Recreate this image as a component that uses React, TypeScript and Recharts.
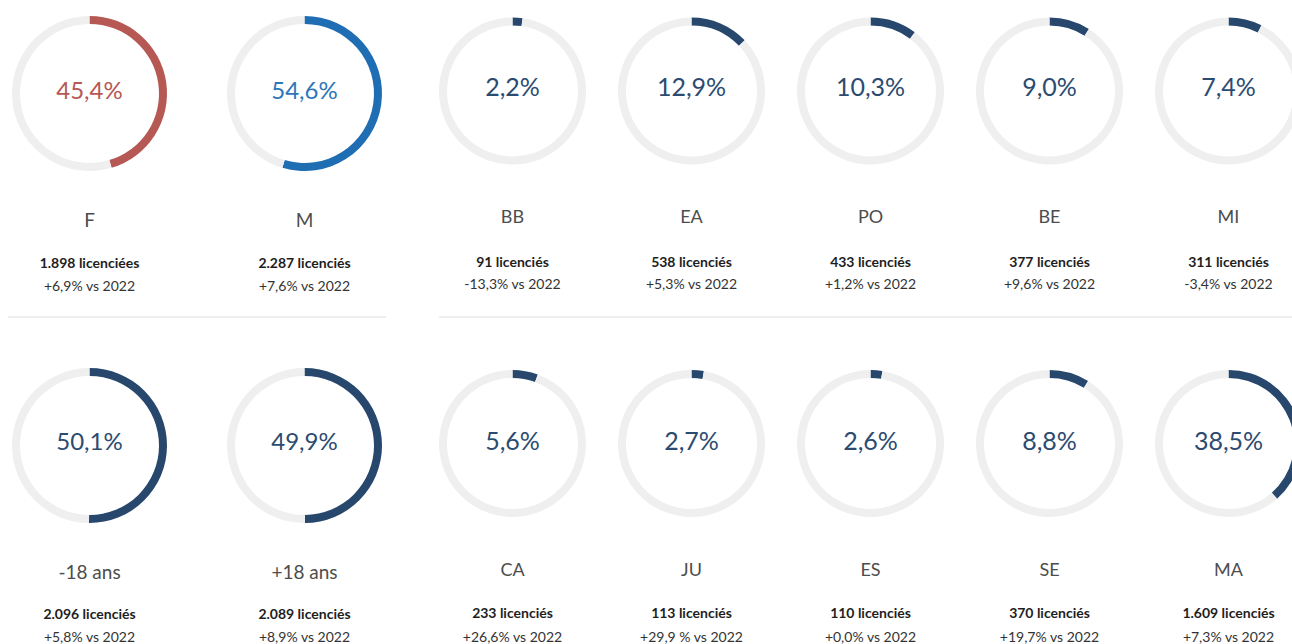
import { PieChart, Pie, Cell } from 'recharts'

// licenciés par sexe / âge (bloc de gauche)
const genderLabels = ['F', 'M']
const genderShares = [45.4, 54.6]
const genderCounts = ['1.898 licenciées', '2.287 licenciés']
const genderChanges = ['+6,9%', '+7,6%']

const ageLabels = ['-18 ans', '+18 ans']
const ageShares = [50.1, 49.9]
const ageCounts = ['2.096 licenciés', '2.089 licenciés']
const ageChanges = ['+5,8%', '+8,9%']

// licenciés par région (bloc de droite)
const regionLabelsTop = ['BB', 'EA', 'PO', 'BE', 'MI']
const regionSharesTop = [2.2, 12.9, 10.3, 9.0, 7.4]
const regionCountsTop = ['91', '538', '433', '377', '311']
const regionChangesTop = ['-13,3%', '+5,3%', '+1,2%', '+9,6%', '-3,4%']

const regionLabelsBottom = ['CA', 'JU', 'ES', 'SE', 'MA']
const regionSharesBottom = [5.6, 2.7, 2.6, 8.8, 38.5]
const regionCountsBottom = ['233', '113', '110', '370', '1.609']
const regionChangesBottom = ['+26,6%', '+29,9 %', '+0,0%', '+19,7%', '+7,3%']

const RED = '#b65854'
const BLUE = '#1f6db3'
const NAVY = '#27476d'
const TRACK = '#efefef'
const FONT = 'Lato, "Open Sans", sans-serif'

type Gauge = {
  key: string
  label: string
  share: number
  count: string
  change: string
  color: string
  textColor: string
  cx: number
  cy: number
  r: number
  pctY: number
  labelY: number
  countY: number
  changeY: number
  pctSize: number
  labelSize: number
}

const leftX = [89.5, 304.5]
const rightX = [512.5, 691.5, 870.5, 1049.5, 1228.5]

const gauges: Gauge[] = [
  ...genderLabels.map((label, i) => ({
    key: 'g' + i, label, share: genderShares[i],
    count: genderCounts[i], change: genderChanges[i],
    color: i === 0 ? RED : BLUE, textColor: i === 0 ? RED : '#2e76b8',
    cx: leftX[i], cy: 93.5, r: 77.5,
    pctY: 89.5, labelY: 219.5, countY: 262.5, changeY: 285.5, pctSize: 24, labelSize: 19,
  })),
  ...ageLabels.map((label, i) => ({
    key: 'a' + i, label, share: ageShares[i],
    count: ageCounts[i], change: ageChanges[i],
    color: NAVY, textColor: '#2c4b70',
    cx: leftX[i], cy: 445.5, r: 77.5,
    pctY: 440.5, labelY: 572, countY: 614, changeY: 636.5, pctSize: 24, labelSize: 19,
  })),
  ...regionLabelsTop.map((label, i) => ({
    key: 'rt' + i, label, share: regionSharesTop[i],
    count: regionCountsTop[i] + ' licenciés', change: regionChangesTop[i],
    color: NAVY, textColor: '#2c4b70',
    cx: rightX[i], cy: 91, r: 73.5,
    pctY: 86, labelY: 216, countY: 261.5, changeY: 284, pctSize: 25, labelSize: 18,
  })),
  ...regionLabelsBottom.map((label, i) => ({
    key: 'rb' + i, label, share: regionSharesBottom[i],
    count: regionCountsBottom[i] + ' licenciés', change: regionChangesBottom[i],
    color: NAVY, textColor: '#2c4b70',
    cx: rightX[i], cy: 443.5, r: 73.5,
    pctY: 439.5, labelY: 568.5, countY: 613, changeY: 636.5, pctSize: 25, labelSize: 18,
  })),
]

const fmt = (v: number) => v.toFixed(1).replace('.', ',') + '%'

function Txt({ x, y, size, color, weight, children }: any) {
  return (
    <div
      style={{
        position: 'absolute', left: x - 120, top: y - 15, width: 240, height: 30,
        lineHeight: '30px', textAlign: 'center', fontSize: size, color,
        fontWeight: weight || 400, fontFamily: FONT, whiteSpace: 'nowrap',
      }}
    >
      {children}
    </div>
  )
}

export default function App() {
  return (
    <div style={{ position: 'absolute', left: 0, top: 0, width: 1292, height: 644, background: '#fff', overflow: 'hidden' }}>
      <PieChart width={1292} height={644} margin={{ top: 0, right: 0, bottom: 0, left: 0 }}>
        {gauges.map(g => (
          <Pie
            key={g.key}
            data={[{ name: 'part', value: g.share }, { name: 'reste', value: 100 - g.share }]}
            dataKey="value"
            cx={g.cx}
            cy={g.cy}
            innerRadius={g.r - 8}
            outerRadius={g.r}
            startAngle={90}
            endAngle={-270}
            stroke="none"
            isAnimationActive={false}
          >
            <Cell fill={g.color} />
            <Cell fill={TRACK} />
          </Pie>
        ))}
      </PieChart>

      {gauges.map(g => (
        <div key={'t' + g.key}>
          <Txt x={g.cx} y={g.pctY} size={g.pctSize} color={g.textColor}>{fmt(g.share)}</Txt>
          <Txt x={g.cx} y={g.labelY} size={g.labelSize} color="#4d4d4d">{g.label}</Txt>
          <Txt x={g.cx} y={g.countY} size={14} color="#1e1e1e" weight={700}>{g.count}</Txt>
          <Txt x={g.cx} y={g.changeY} size={14} color="#333">{g.change} vs 2022</Txt>
        </div>
      ))}

      <div style={{ position: 'absolute', left: 8, top: 316, width: 378, height: 1.5, background: '#eeeeee' }} />
      <div style={{ position: 'absolute', left: 439, top: 316, width: 853, height: 1.5, background: '#eeeeee' }} />
    </div>
  )
}
